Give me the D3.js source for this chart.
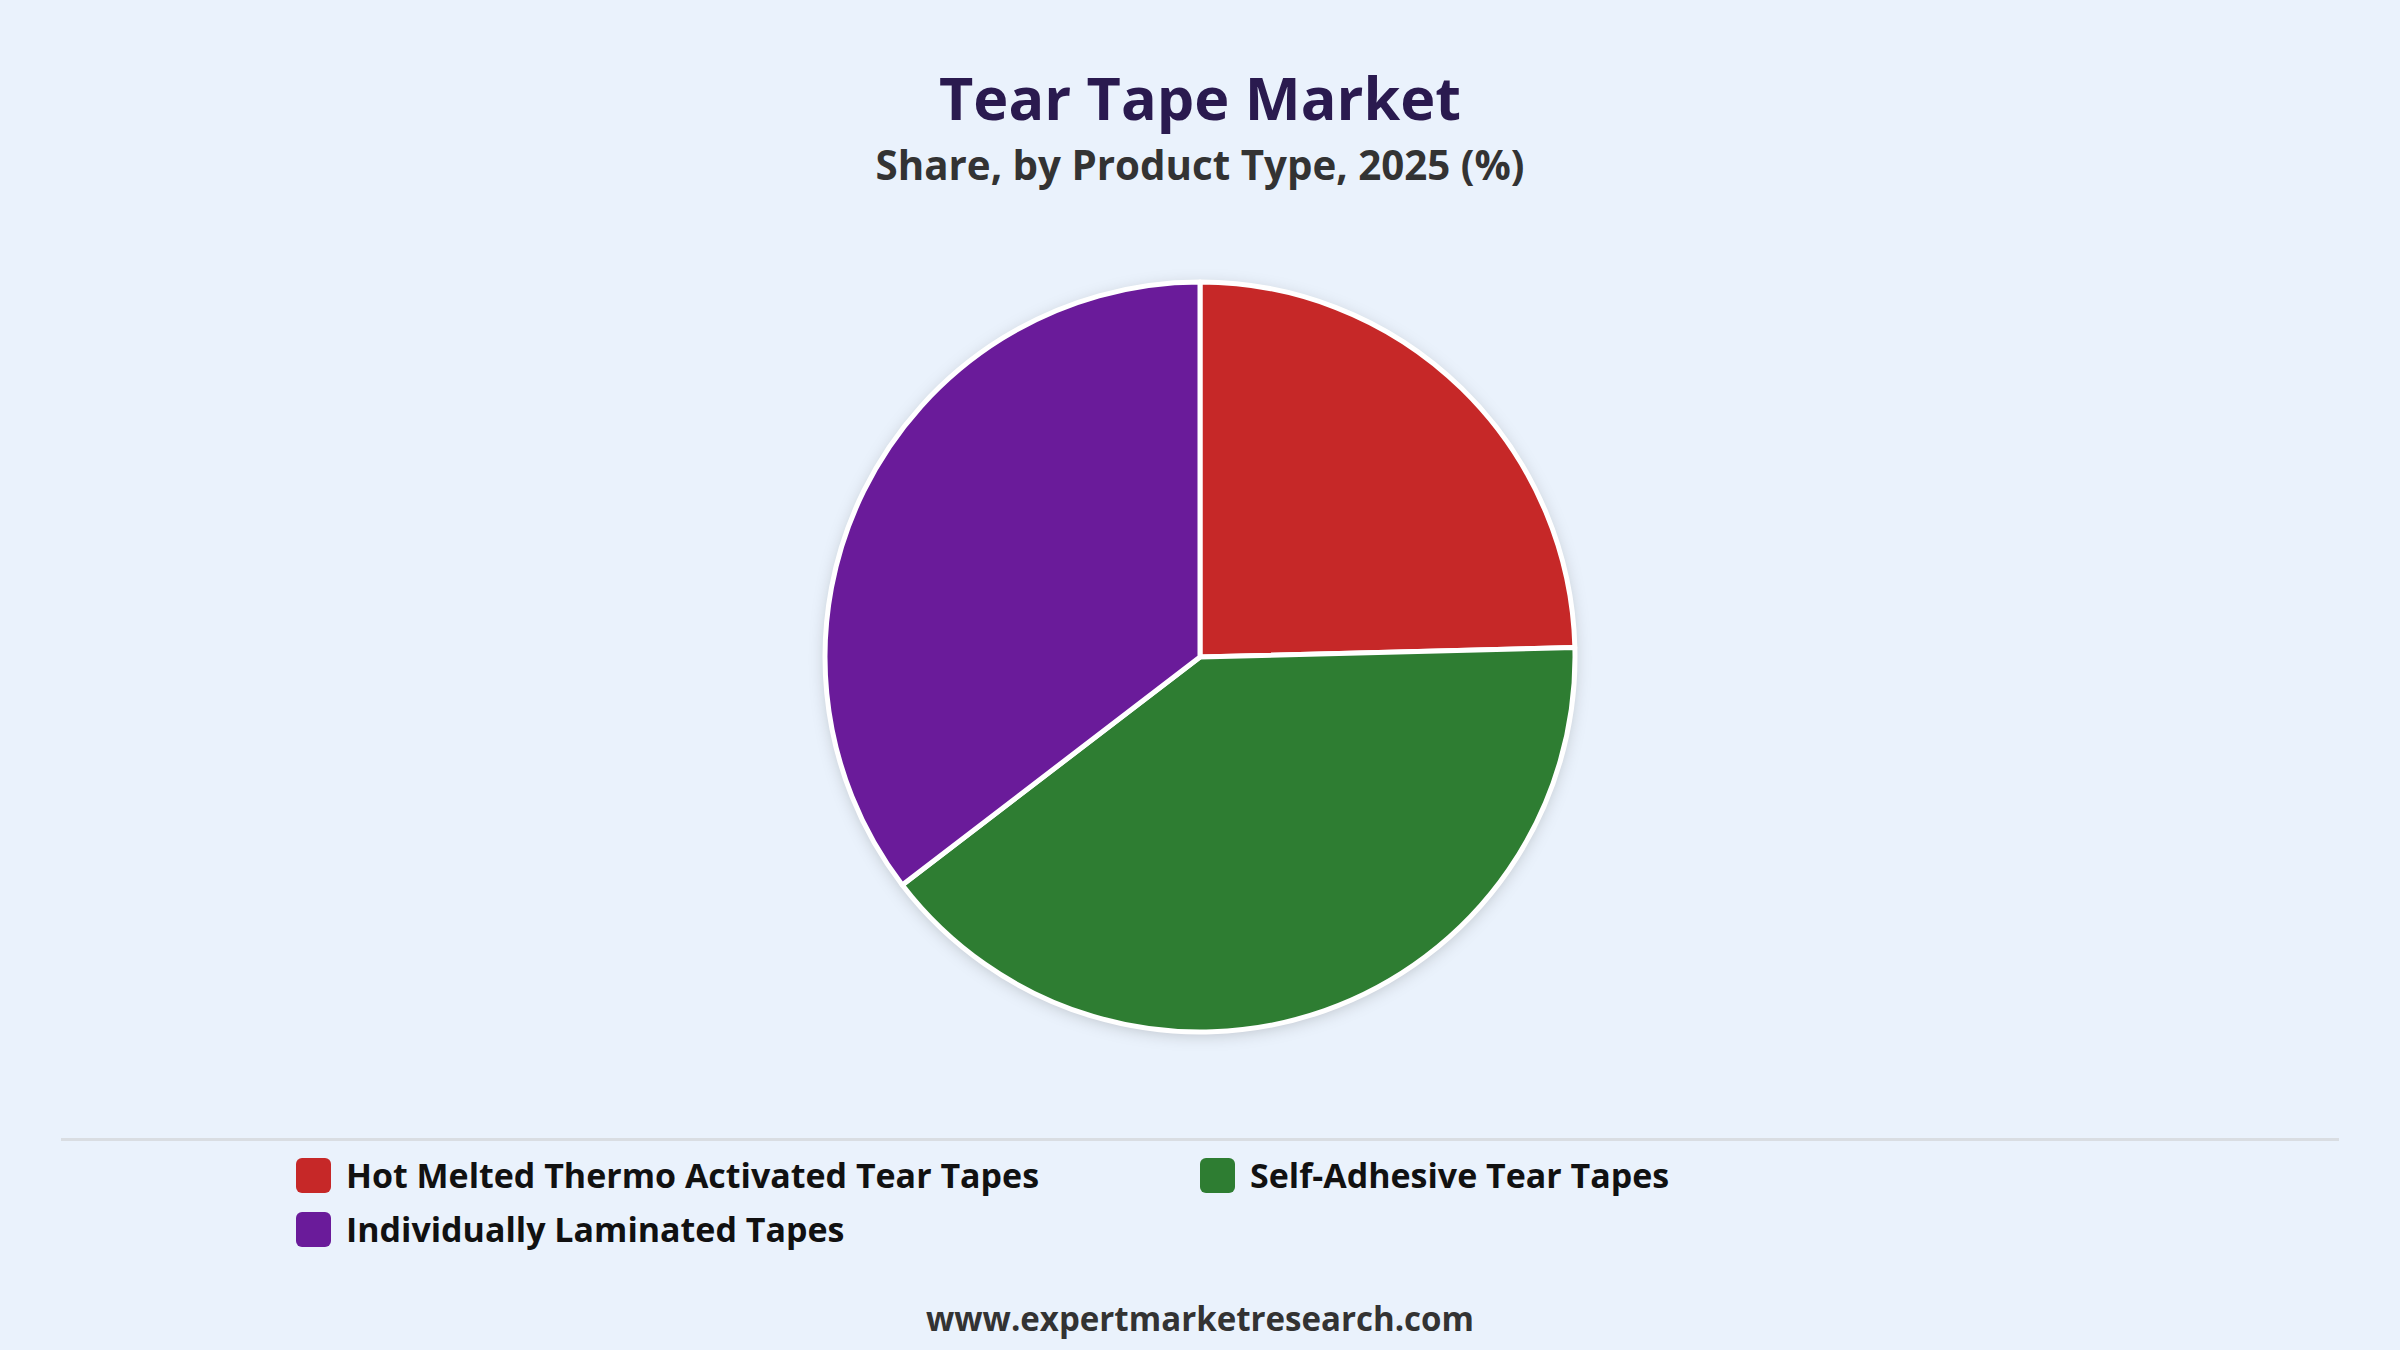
<!DOCTYPE html>
<html><head><meta charset="utf-8">
<script src="https://cdn.jsdelivr.net/npm/d3@7"></script>
<style>
html,body{margin:0;padding:0;background:#eaf2fc;}
svg{display:block;}
text{font-family:"Open Sans","Noto Sans",sans-serif;font-weight:700;}
</style></head>
<body>
<svg id="chart" width="2400" height="1350"></svg>
<script>
const categories = ["Hot Melted Thermo Activated Tear Tapes", "Self-Adhesive Tear Tapes", "Individually Laminated Tapes"];
const shares = [24.6, 40.0, 35.4];
const colors = ["#c62828", "#2e7d32", "#6a1b9a"];
const titleText = "Tear Tape Market";
const subtitleText = "Share, by Product Type, 2025 (%)";
const footerText = "www.expertmarketresearch.com";

const W = 2400, H = 1350;
const svg = d3.select("#chart");
svg.append("rect").attr("width", W).attr("height", H).attr("fill", "#eaf2fc");

const defs = svg.append("defs");
const f = defs.append("filter").attr("id", "shadow").attr("x", "-20%").attr("y", "-20%").attr("width", "140%").attr("height", "140%");
f.append("feDropShadow").attr("dx", 0).attr("dy", 3).attr("stdDeviation", 8).attr("flood-color", "#000").attr("flood-opacity", 0.2);

function fitText(sel, target) {
  const node = sel.node();
  const fs = parseFloat(sel.attr("font-size"));
  const w = node.getComputedTextLength();
  if (w > 0) sel.attr("font-size", (fs * target / w).toFixed(2));
}

const title = svg.append("text").attr("x", W / 2).attr("y", 120).attr("text-anchor", "middle")
  .attr("font-size", 58).attr("font-weight", 800).attr("fill", "#2a1a4f").text(titleText);
fitText(title, 522);
const sub = svg.append("text").attr("x", W / 2).attr("y", 180).attr("text-anchor", "middle")
  .attr("font-size", 40).attr("fill", "#333333").text(subtitleText);
fitText(sub, 649);

const cx = 1200, cy = 657, R = 375;
const pie = d3.pie().sort(null).value(d => d);
const arc = d3.arc().innerRadius(0).outerRadius(R);
const g = svg.append("g").attr("transform", `translate(${cx},${cy})`);
g.append("circle").attr("r", R).attr("fill", "#ffffff").attr("filter", "url(#shadow)");
g.selectAll("path").data(pie(shares)).join("path")
  .attr("d", arc)
  .attr("fill", (d, i) => colors[i])
  .attr("stroke", "#ffffff").attr("stroke-width", 5).attr("stroke-linejoin", "round");

svg.append("line").attr("x1", 61).attr("x2", 2339).attr("y1", 1139.5).attr("y2", 1139.5)
  .attr("stroke", "#d9dde2").attr("stroke-width", 3);

const legendPos = [[296, 1158], [1200, 1158], [296, 1212]];
const lg = svg.append("g");
categories.forEach((c, i) => {
  const [x, y] = legendPos[i];
  lg.append("rect").attr("x", x).attr("y", y).attr("width", 35).attr("height", 35).attr("rx", 6)
    .attr("fill", colors[i]);
  const t = lg.append("text").attr("x", x + 50).attr("y", y + 30).attr("font-size", 35)
    .attr("fill", "#111111").text(c);
  if (i === 0) fitText(t, 693);
});
const fs0 = lg.select("text").attr("font-size");
lg.selectAll("text").attr("font-size", fs0);

const foot = svg.append("text").attr("x", W / 2).attr("y", 1331).attr("text-anchor", "middle")
  .attr("font-size", 34).attr("fill", "#333333").text(footerText);
fitText(foot, 548);
</script>
</body></html>
